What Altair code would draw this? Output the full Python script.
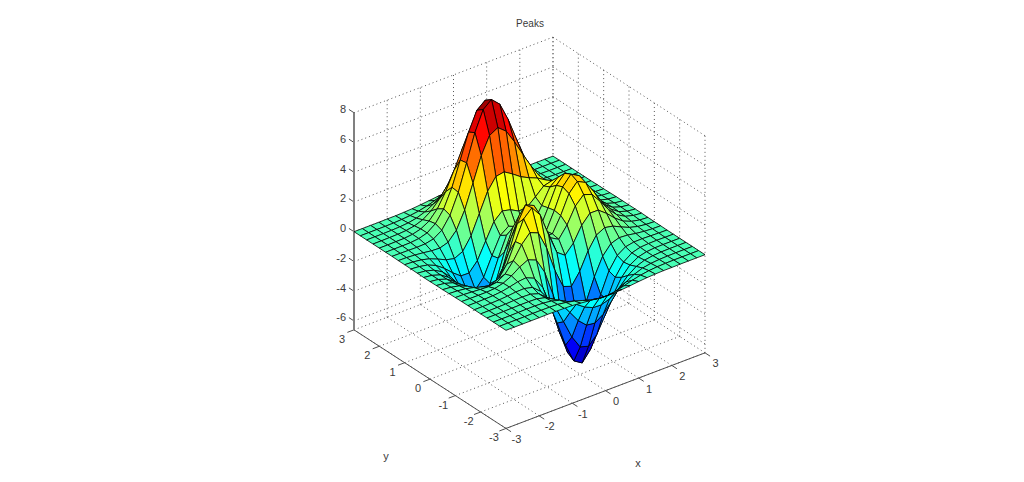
import altair as alt
import pandas as pd

X_GRID = [-3, -2.75, -2.5, -2.25, -2, -1.75, -1.5, -1.25, -1, -0.75, -0.5, -0.25, 0,
          0.25, 0.5, 0.75, 1, 1.25, 1.5, 1.75, 2, 2.25, 2.5, 2.75, 3]
Y_GRID = list(X_GRID)

# one row per y value (y = -3 first), one entry per x value
Z_ROWS = [
 [0,0,0,0,0,.01,0,-.01,-.03,-.08,-.14,-.20,-.25,-.25,-.22,-.17,-.11,-.06,-.03,-.01,-.01,0,0,0,0],
 [0,0,0,0,.01,.01,0,-.02,-.10,-.22,-.39,-.56,-.68,-.69,-.61,-.46,-.30,-.17,-.08,-.03,-.01,0,0,0,0],
 [0,0,0,.01,.02,.02,0,-.07,-.23,-.53,-.92,-1.31,-1.57,-1.60,-1.41,-1.06,-.69,-.39,-.18,-.08,-.03,-.01,0,0,0],
 [0,0,.01,.02,.03,.03,.01,-.12,-.44,-.99,-1.74,-2.50,-3.02,-3.10,-2.72,-2.05,-1.32,-.74,-.35,-.14,-.05,-.01,0,0,0],
 [0,0,.01,.02,.05,.07,.05,-.13,-.59,-1.45,-2.64,-3.88,-4.76,-4.93,-4.35,-3.27,-2.10,-1.15,-.53,-.20,-.06,-.01,0,0,0],
 [0,0,.01,.03,.07,.13,.15,.02,-.46,-1.48,-3.01,-4.70,-5.98,-6.33,-5.64,-4.24,-2.69,-1.42,-.61,-.20,-.04,0,.01,0,0],
 [0,0,.01,.03,.08,.19,.33,.39,.15,-.68,-2.19,-4.08,-5.68,-6.33,-5.76,-4.32,-2.64,-1.27,-.44,-.07,.04,.05,.03,.01,0],
 [0,-.01,-.01,-.01,.03,.17,.45,.84,1.11,.88,-.14,-1.85,-3.60,-4.60,-4.40,-3.22,-1.74,-.56,.08,.27,.23,.13,.06,.02,.01],
 [-.01,-.02,-.06,-.10,-.13,-.04,.30,.98,1.86,2.45,2.22,1.00,-.72,-2.02,-2.22,-1.43,-.27,.58,.88,.77,.50,.26,.11,.04,.01],
 [-.02,-.05,-.12,-.25,-.42,-.51,-.28,.49,1.78,3.09,3.63,2.94,1.40,0,-.41,.20,1.18,1.79,1.78,1.35,.82,.41,.18,.06,.02],
 [-.03,-.08,-.20,-.44,-.80,-1.16,-1.21,-.60,.80,2.49,3.55,3.30,2.00,.70,.39,1.14,2.20,2.76,2.56,1.88,1.12,.56,.24,.09,.03],
 [-.03,-.10,-.27,-.60,-1.14,-1.78,-2.16,-1.84,-.56,1.23,2.56,2.63,1.58,.53,.48,1.50,2.76,3.37,3.09,2.25,1.34,.67,.28,.10,.03],
 [-.04,-.11,-.30,-.69,-1.33,-2.14,-2.77,-2.71,-1.65,.06,1.48,1.75,.98,.19,.38,1.57,2.94,3.58,3.27,2.37,1.41,.70,.30,.11,.03],
 [-.04,-.11,-.29,-.67,-1.32,-2.16,-2.87,-2.98,-2.15,-.65,.68,1.06,.52,-.03,.28,1.47,2.76,3.36,3.06,2.22,1.32,.66,.28,.10,.03],
 [-.03,-.09,-.25,-.57,-1.12,-1.85,-2.49,-2.64,-2.00,-.76,.39,.80,.46,.09,.38,1.34,2.38,2.83,2.56,1.84,1.09,.54,.23,.08,.03],
 [-.02,-.07,-.18,-.42,-.82,-1.33,-1.76,-1.78,-1.16,-.05,1.04,1.55,1.42,1.12,1.17,1.65,2.17,2.32,1.99,1.40,.82,.40,.17,.06,.02],
 [-.01,-.04,-.11,-.25,-.48,-.74,-.87,-.60,.23,1.51,2.80,3.59,3.69,3.34,2.94,2.66,2.43,2.09,1.58,1.04,.58,.28,.11,.04,.01],
 [-.01,-.02,-.06,-.12,-.20,-.23,-.05,.55,1.69,3.29,4.92,6.07,6.39,5.94,5.02,3.97,2.97,2.09,1.35,.79,.41,.19,.07,.03,.01],
 [0,-.01,-.02,-.03,-.01,.11,.48,1.28,2.61,4.38,6.20,7.54,8.00,7.48,6.25,4.72,3.26,2.05,1.19,.62,.29,.12,.05,.02,0],
 [0,0,0,.01,.07,.24,.65,1.43,2.67,4.29,5.96,7.22,7.68,7.20,5.99,4.45,2.96,1.78,.96,.47,.21,.08,.03,.01,0],
 [0,0,.01,.02,.08,.23,.55,1.16,2.10,3.31,4.56,5.51,5.86,5.50,4.57,3.37,2.21,1.29,.68,.32,.13,.05,.02,.01,0],
 [0,0,.01,.02,.06,.16,.36,.74,1.32,2.07,2.84,3.43,3.65,3.43,2.84,2.09,1.36,.79,.41,.19,.08,.03,.01,0,0],
 [0,0,0,.01,.03,.08,.19,.39,.69,1.07,1.47,1.77,1.88,1.77,1.47,1.08,.70,.40,.20,.09,.04,.01,0,0,0],
 [0,0,0,0,.01,.04,.09,.17,.30,.47,.64,.77,.82,.77,.64,.47,.30,.17,.09,.04,.02,0,0,0,0],
 [0,0,0,0,.01,.01,.03,.06,.11,.17,.23,.28,.30,.28,.23,.17,.11,.06,.03,.01,.01,0,0,0,0],
]

X_TICKS = [-3, -2, -1, 0, 1, 2, 3]
Y_TICKS = [-3, -2, -1, 0, 1, 2, 3]
Z_TICKS = [-6, -4, -2, 0, 2, 4, 6, 8]
Z_MIN = -6.6
Z_MAX = 8.0
COLOR_STOPS = [-6.55, -4.72, -1.06, 2.61, 6.27, 8.1]
JET = ["#000090", "#0000ff", "#00ffff", "#ffff00", "#ff0000", "#800000"]
TICK_LEN = 0.2
INK = "#3a3a3a"
FONT = "Liberation Sans"

SX = "506 + (datum.x + 3) / 6 * 199 - (datum.y + 3) / 6 * 152"
SY = "330.3 - (datum.x + 3) / 6 * 75.6 - (datum.y + 3) / 6 * 98.6 - 14.87 * datum.z"

W, H = 1008, 466
xpos = alt.X("sx:Q", scale=alt.Scale(domain=[8, 1016], nice=False, zero=False), axis=None)
ypos = alt.Y("sy:Q", scale=alt.Scale(domain=[474, 8], nice=False, zero=False), axis=None)


def projected(chart):
    return chart.transform_calculate(sx=SX, sy=SY)


def segments(rows):
    out = []
    for n, (a, b) in enumerate(rows):
        out.append(dict(id=n, k=0, x=a[0], y=a[1], z=a[2]))
        out.append(dict(id=n, k=1, x=b[0], y=b[1], z=b[2]))
    return pd.DataFrame(out)


def line_layer(rows, **mark):
    return projected(
        alt.Chart(segments(rows)).mark_line(**mark).encode(
            x=xpos, y=ypos, detail="id:N", order="k:Q"
        )
    )


grid_rows = []
for t in X_TICKS:
    grid_rows.append(((t, -3, Z_MIN), (t, 3, Z_MIN)))
    grid_rows.append(((t, 3, Z_MIN), (t, 3, Z_MAX)))
for t in Y_TICKS:
    grid_rows.append(((-3, t, Z_MIN), (3, t, Z_MIN)))
    grid_rows.append(((3, t, Z_MIN), (3, t, Z_MAX)))
for t in Z_TICKS:
    grid_rows.append(((-3, 3, t), (3, 3, t)))
    grid_rows.append(((3, 3, t), (3, -3, t)))
grid = line_layer(grid_rows, color="#555555", strokeWidth=1, strokeDash=[1, 3])

axis_rows = [
    ((-3, 3, Z_MIN), (-3, -3, Z_MIN)),
    ((-3, -3, Z_MIN), (3, -3, Z_MIN)),
]
for t in X_TICKS:
    axis_rows.append(((t, -3, Z_MIN), (t, -3 - TICK_LEN, Z_MIN)))
for t in Y_TICKS:
    axis_rows.append(((-3, t, Z_MIN), (-3 - TICK_LEN, t, Z_MIN)))
for t in Z_TICKS:
    axis_rows.append(((-3, 3, t), (-3, 3 + TICK_LEN, t)))
axes = line_layer(axis_rows, color="#505050", strokeWidth=1)
z_axis = line_layer([((-3, 3, Z_MIN), (-3, 3, Z_MAX))], color="#808080", strokeWidth=2)

# back-to-front quads of the surface
quads = []
qid = 0
nx, ny = len(X_GRID), len(Y_GRID)
for i in range(nx - 2, -1, -1):
    for j in range(ny - 2, -1, -1):
        corners = [(i, j), (i + 1, j), (i + 1, j + 1), (i, j + 1), (i, j)]
        mean = sum(Z_ROWS[b][a] for a, b in corners[:4]) / 4
        for k, (a, b) in enumerate(corners):
            quads.append(dict(id=qid, k=k, x=X_GRID[a], y=Y_GRID[b], z=Z_ROWS[b][a], c=mean))
        qid += 1
surface = projected(
    alt.Chart(pd.DataFrame(quads)).mark_line(stroke="#000000", strokeWidth=0.8).encode(
        x=xpos,
        y=ypos,
        detail="id:Q",
        order="k:Q",
        fill=alt.Fill(
            "c:Q",
            legend=None,
            scale=alt.Scale(domain=COLOR_STOPS, range=JET, interpolate="rgb"),
        ),
    )
)


def labels(rows, dx, dy, align="center"):
    df = pd.DataFrame([dict(x=a, y=b, z=c, t=str(v)) for a, b, c, v in rows])
    return projected(
        alt.Chart(df).mark_text(
            font=FONT, fontSize=11, color=INK, dx=dx, dy=dy, align=align, baseline="middle"
        ).encode(x=xpos, y=ypos, text="t:N")
    )


x_labels = labels([(t, -3, Z_MIN, t) for t in X_TICKS], 10.5, 11.5)
y_labels = labels([(-3, t, Z_MIN, t) for t in Y_TICKS], -12, 10)
z_labels = labels([(-3, 3, t, t) for t in Z_TICKS], -8, -2.5, "right")
x_name = labels([(0, -3, Z_MIN, "x")], 32.5, 73.5)
y_name = labels([(-3, 0, Z_MIN, "y")], -44, 78)

chart = alt.layer(
    grid, axes, z_axis, surface, x_labels, y_labels, z_labels, x_name, y_name
).properties(
    width=W,
    height=H,
    padding=0,
    autosize=alt.AutoSizeParams(type="none"),
    title=alt.TitleParams(
        text="Peaks", font=FONT, fontSize=10, fontWeight="normal", color=INK,
        anchor="middle", dx=18, dy=25,
    ),
).configure_view(stroke=None)

chart.save("out.html", embed_options={"renderer": "svg", "actions": False})
